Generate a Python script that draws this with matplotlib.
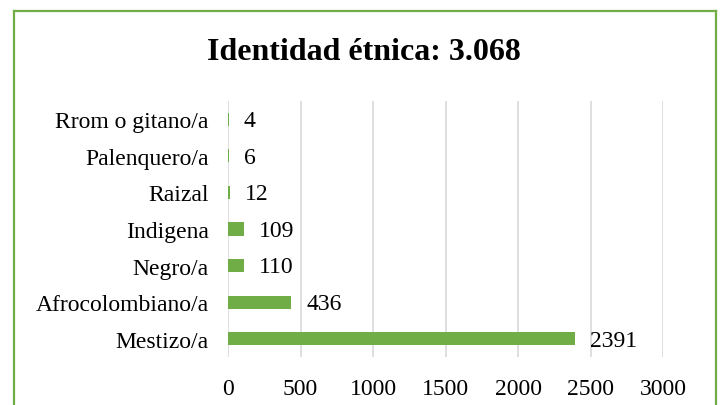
import matplotlib
matplotlib.use("Agg")
import matplotlib.pyplot as plt
from matplotlib.lines import Line2D

categories = ["Mestizo/a", "Afrocolombiano/a", "Negro/a", "Indigena", "Raizal", "Palenquero/a", "Rrom o gitano/a"]
values = [2391, 436, 110, 109, 12, 6, 4]
xticks = [0, 500, 1000, 1500, 2000, 2500, 3000]
title = "Identidad étnica: 3.068"

W, H = 721, 406
fig = plt.figure(figsize=(W/100, H/100), dpi=100)
plt.rcParams['font.family'] = ['Liberation Serif', 'DejaVu Serif']

ax = fig.add_axes([228/W, 1-358/H, (663-228)/W, (358-102)/H])
ax.barh(range(len(categories)), values, height=0.36, color="#70ad47", zorder=3)
ax.set_xlim(0, 3000)
ax.set_ylim(-0.5, len(categories)-0.5)
ax.set_xticks(xticks)
ax.set_xticklabels([str(t) for t in xticks], fontsize=17)
ax.set_yticks(range(len(categories)))
ax.set_yticklabels(categories, fontsize=17)
ax.tick_params(length=0, pad=14, axis='y')
ax.tick_params(length=0, pad=15, axis='x')
ax.grid(axis='x', color="#d9d9d9", linewidth=1.2, zorder=0)
for s in ax.spines.values():
    s.set_visible(False)
for i, v in enumerate(values):
    ax.annotate(str(v), (v, i), xytext=(11, -1), textcoords="offset points",
                va="center", ha="left", fontsize=17)

fig.text(364/W, 1-52/H, title, ha="center", va="center", fontsize=23, fontweight="bold")

green = "#70ad47"
fig.add_artist(Line2D([14/W, 14/W], [0, 1-12/H], color=green, linewidth=1.6, transform=fig.transFigure))
fig.add_artist(Line2D([14/W, 716/W], [1-12/H, 1-12/H], color=green, linewidth=1.6, transform=fig.transFigure))
fig.add_artist(Line2D([716/W, 716/W], [0, 1-12/H], color=green, linewidth=1.6, transform=fig.transFigure))

fig.savefig("out.png", dpi=100)
